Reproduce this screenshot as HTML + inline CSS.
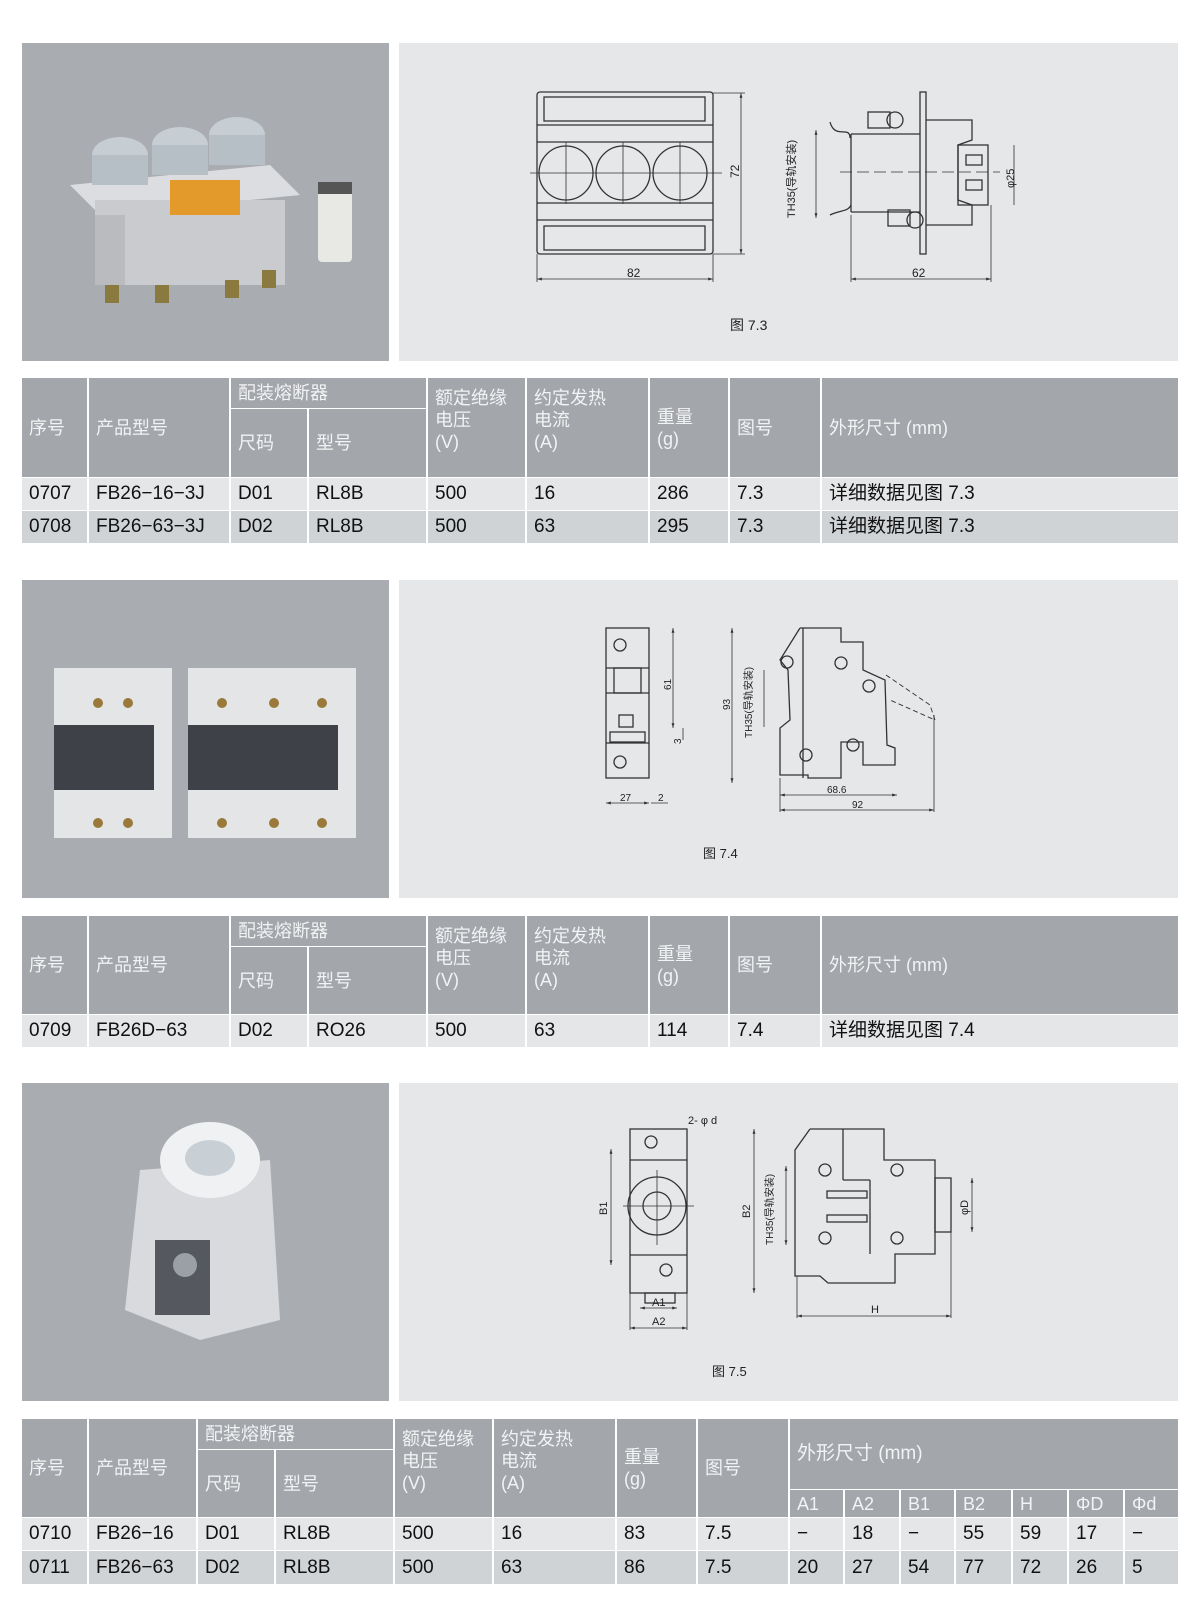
<!DOCTYPE html>
<html><head><meta charset="utf-8">
<style>
*{margin:0;padding:0}
body{width:1200px;height:1601px;background:#fff;position:relative;overflow:hidden;font-family:"Liberation Sans","Noto Sans CJK SC",sans-serif}
.b{position:absolute}
.ph{position:absolute;background:#a9acb1}
.dw{position:absolute;background:#e5e7e8}
.c{position:absolute;box-sizing:border-box;border-right:2px solid #fff;border-bottom:1px solid #fff;padding-left:7px;display:flex;align-items:center;font-size:19px;line-height:20px;color:#111;white-space:nowrap}
.c span{display:inline-block;line-height:20px}
.h{background:#a3a6ab;color:#f2f3f4;font-size:18px;line-height:22px}
.t{align-items:flex-start;padding-top:16px}
.r1{background:#e4e6e7}.r2{background:#d0d3d6}
.last{border-right:none}
svg text{font-family:"Liberation Sans","Noto Sans CJK SC",sans-serif}
</style></head><body>

<div class="ph" style="left:22px;top:43px;width:367px;height:318px"></div>
<div class="dw" style="left:399px;top:43px;width:779px;height:318px"></div>
<div class="ph" style="left:22px;top:580px;width:367px;height:318px"></div>
<div class="dw" style="left:399px;top:580px;width:779px;height:318px"></div>
<div class="ph" style="left:22px;top:1083px;width:367px;height:318px"></div>
<div class="dw" style="left:399px;top:1083px;width:779px;height:318px"></div>

<svg class="b" style="left:0;top:0" width="1200" height="1601" viewBox="0 0 1200 1601" fill="none" stroke="#333" stroke-width="1.3">
<defs><marker id="a" viewBox="0 0 10 10" refX="10" refY="5" markerWidth="6" markerHeight="6" orient="auto-start-reverse"><path d="M0,2 L10,5 L0,8z" fill="#333" stroke="none"/></marker></defs>
<g stroke="none">
<polygon points="70,185 270,165 300,195 100,215" fill="#dcdde0"/>
<rect x="95" y="200" width="190" height="85" fill="#c9cbcf"/>
<rect x="95" y="215" width="30" height="70" fill="#b9bbbf"/>
<rect x="170" y="180" width="70" height="35" fill="#e39a2a"/>
<ellipse cx="120" cy="155" rx="28" ry="18" fill="#c6cdd3"/><rect x="92" y="155" width="56" height="30" fill="#b7bfc6"/>
<ellipse cx="180" cy="145" rx="28" ry="18" fill="#c6cdd3"/><rect x="152" y="145" width="56" height="30" fill="#b7bfc6"/>
<ellipse cx="237" cy="135" rx="28" ry="18" fill="#c6cdd3"/><rect x="209" y="135" width="56" height="30" fill="#b7bfc6"/>
<rect x="105" y="285" width="14" height="18" fill="#8a7a40"/><rect x="155" y="285" width="14" height="18" fill="#8a7a40"/><rect x="225" y="280" width="14" height="18" fill="#8a7a40"/><rect x="262" y="270" width="14" height="18" fill="#8a7a40"/>
<rect x="318" y="190" width="34" height="72" rx="4" fill="#e8e8e4"/><rect x="318" y="182" width="34" height="12" fill="#555"/>
</g>
<g stroke="none">
<rect x="54" y="668" width="118" height="170" fill="#e4e5e7"/>
<rect x="54" y="725" width="100" height="65" fill="#3e4248"/>
<rect x="188" y="668" width="168" height="170" fill="#e4e5e7"/>
<rect x="188" y="725" width="150" height="65" fill="#3e4248"/>
<circle cx="98" cy="703" r="5" fill="#9a7a3a"/><circle cx="128" cy="703" r="5" fill="#9a7a3a"/>
<circle cx="222" cy="703" r="5" fill="#9a7a3a"/><circle cx="274" cy="703" r="5" fill="#9a7a3a"/><circle cx="322" cy="703" r="5" fill="#9a7a3a"/>
<circle cx="98" cy="823" r="5" fill="#9a7a3a"/><circle cx="128" cy="823" r="5" fill="#9a7a3a"/>
<circle cx="222" cy="823" r="5" fill="#9a7a3a"/><circle cx="274" cy="823" r="5" fill="#9a7a3a"/><circle cx="322" cy="823" r="5" fill="#9a7a3a"/>
</g>
<g stroke="none">
<polygon points="140,1170 270,1160 280,1320 200,1340 125,1310" fill="#d8dadd"/>
<ellipse cx="210" cy="1160" rx="50" ry="38" fill="#f0f1f2"/>
<ellipse cx="210" cy="1158" rx="25" ry="18" fill="#c8d0d6"/>
<rect x="155" y="1240" width="55" height="75" fill="#55595f"/>
<circle cx="185" cy="1265" r="12" fill="#9aa0a6"/>
</g>

<rect x="537" y="92" width="176" height="162" rx="3"/>
<rect x="544" y="97" width="161" height="24"/><rect x="544" y="226" width="161" height="24"/>
<line x1="537" y1="125" x2="713" y2="125"/><line x1="537" y1="142" x2="713" y2="142"/>
<line x1="537" y1="203" x2="713" y2="203"/><line x1="537" y1="220" x2="713" y2="220"/>
<circle cx="566" cy="173" r="27"/><circle cx="623" cy="173" r="27"/><circle cx="680" cy="173" r="27"/>
<line x1="530" y1="173" x2="722" y2="173" stroke-width=".8"/>
<line x1="566" y1="142" x2="566" y2="204" stroke-width=".8"/><line x1="623" y1="142" x2="623" y2="204" stroke-width=".8"/><line x1="680" y1="142" x2="680" y2="204" stroke-width=".8"/>
<line x1="741" y1="93" x2="741" y2="254" stroke-width=".8" marker-start="url(#a)" marker-end="url(#a)"/><line x1="713" y1="93" x2="745" y2="93" stroke-width=".8"/><line x1="713" y1="254" x2="745" y2="254" stroke-width=".8"/>
<line x1="537" y1="279" x2="713" y2="279" stroke-width=".8" marker-start="url(#a)" marker-end="url(#a)"/><line x1="537" y1="254" x2="537" y2="282" stroke-width=".8"/><line x1="713" y1="254" x2="713" y2="282" stroke-width=".8"/>
<rect x="920" y="92" width="6" height="162"/>
<polyline points="851,134 920,134"/><polyline points="851,212 920,212"/><line x1="851" y1="134" x2="851" y2="212"/>
<polyline points="926,120 972,120 972,140 958,145 958,200 972,205 972,225 926,225"/>
<rect x="958" y="145" width="30" height="60"/><rect x="966" y="155" width="16" height="10"/><rect x="966" y="180" width="16" height="10"/>
<path d="M830,122 C835,140 850,125 850,138 M830,215 C840,210 848,212 851,205"/>
<rect x="868" y="112" width="22" height="16"/><circle cx="895" cy="120" r="8"/>
<rect x="888" y="210" width="22" height="16"/><circle cx="915" cy="220" r="8"/>
<line x1="816" y1="130" x2="816" y2="218" stroke-width=".8" marker-start="url(#a)" marker-end="url(#a)"/>
<line x1="840" y1="172" x2="1000" y2="172" stroke-dasharray="12 5" stroke-width=".8"/>
<line x1="1014" y1="145" x2="1014" y2="205" stroke-width=".8"/>
<line x1="851" y1="279" x2="991" y2="279" stroke-width=".8" marker-start="url(#a)" marker-end="url(#a)"/><line x1="851" y1="215" x2="851" y2="282" stroke-width=".8"/><line x1="991" y1="205" x2="991" y2="282" stroke-width=".8"/>

<rect x="606" y="628" width="43" height="150"/>
<line x1="606" y1="668" x2="649" y2="668"/><line x1="606" y1="693" x2="649" y2="693"/><line x1="606" y1="743" x2="649" y2="743"/>
<rect x="614" y="668" width="27" height="25"/><rect x="619" y="715" width="14" height="12"/><rect x="610" y="732" width="35" height="10"/>
<circle cx="620" cy="645" r="6"/><circle cx="620" cy="762" r="6"/>
<line x1="673" y1="628" x2="673" y2="728" stroke-width=".8" marker-start="url(#a)" marker-end="url(#a)"/><line x1="683" y1="728" x2="683" y2="740" stroke-width=".8"/>
<line x1="606" y1="803" x2="649" y2="803" stroke-width=".8" marker-start="url(#a)" marker-end="url(#a)"/><line x1="651" y1="803" x2="668" y2="803" stroke-width=".8"/>
<line x1="732" y1="628" x2="732" y2="783" stroke-width=".8" marker-start="url(#a)" marker-end="url(#a)"/>
<polyline points="800,628 841,628 841,642 863,642 863,670 885,680 887,745 895,748 895,765 863,765 863,742 841,742 841,778 808,778 808,775 780,775 780,728 790,720 788,670 780,660 800,628"/>
<line x1="803" y1="628" x2="803" y2="778"/>
<circle cx="787" cy="662" r="6"/><circle cx="841" cy="663" r="6"/><circle cx="869" cy="686" r="6"/><circle cx="853" cy="745" r="6"/><circle cx="806" cy="755" r="6"/>
<polyline points="886,675 930,705 935,720 890,700" stroke-dasharray="5 3" stroke-width=".9"/>
<line x1="764" y1="670" x2="764" y2="727" stroke-width=".8"/>
<line x1="780" y1="795" x2="897" y2="795" stroke-width=".8" marker-start="url(#a)" marker-end="url(#a)"/><line x1="780" y1="810" x2="934" y2="810" stroke-width=".8" marker-start="url(#a)" marker-end="url(#a)"/>
<line x1="780" y1="778" x2="780" y2="812" stroke-width=".8"/><line x1="934" y1="715" x2="934" y2="812" stroke-width=".8"/>

<rect x="630" y="1129" width="57" height="164"/>
<line x1="630" y1="1160" x2="687" y2="1160"/><line x1="630" y1="1255" x2="687" y2="1255"/>
<circle cx="657" cy="1206" r="29"/><circle cx="657" cy="1206" r="14"/>
<line x1="623" y1="1206" x2="694" y2="1206" stroke-width=".8"/><line x1="657" y1="1170" x2="657" y2="1245" stroke-width=".8"/>
<circle cx="651" cy="1142" r="6"/><circle cx="666" cy="1270" r="6"/>
<rect x="645" y="1293" width="30" height="10"/>
<line x1="611" y1="1149" x2="611" y2="1265" stroke-width=".8" marker-start="url(#a)" marker-end="url(#a)"/>
<line x1="640" y1="1308" x2="677" y2="1308" stroke-width=".8" marker-start="url(#a)" marker-end="url(#a)"/><line x1="630" y1="1328" x2="687" y2="1328" stroke-width=".8" marker-start="url(#a)" marker-end="url(#a)"/>
<line x1="630" y1="1293" x2="630" y2="1330" stroke-width=".8"/><line x1="687" y1="1293" x2="687" y2="1330" stroke-width=".8"/>
<polyline points="810,1129 884,1129 884,1160 935,1160 935,1254 895,1254 895,1283 828,1283 820,1276 795,1276 795,1150 810,1129"/>
<line x1="843" y1="1129" x2="843" y2="1180"/><line x1="843" y1="1180" x2="870" y2="1180"/><line x1="870" y1="1180" x2="870" y2="1254"/>
<rect x="827" y="1191" width="40" height="7"/><rect x="827" y="1215" width="40" height="7"/>
<circle cx="825" cy="1170" r="6"/><circle cx="897" cy="1170" r="6"/><circle cx="825" cy="1238" r="6"/><circle cx="897" cy="1238" r="6"/>
<rect x="935" y="1178" width="16" height="54"/>
<line x1="786" y1="1166" x2="786" y2="1245" stroke-width=".8" marker-start="url(#a)" marker-end="url(#a)"/>
<line x1="754" y1="1129" x2="754" y2="1293" stroke-width=".8" marker-start="url(#a)" marker-end="url(#a)"/>
<line x1="972" y1="1178" x2="972" y2="1232" stroke-width=".8" marker-start="url(#a)" marker-end="url(#a)"/>
<line x1="797" y1="1316" x2="951" y2="1316" stroke-width=".8" marker-start="url(#a)" marker-end="url(#a)"/><line x1="797" y1="1276" x2="797" y2="1318" stroke-width=".8"/><line x1="951" y1="1232" x2="951" y2="1318" stroke-width=".8"/>

<g stroke="none" fill="#222" font-size="12">
<text x="627" y="277">82</text><text x="912" y="277">62</text>
<text transform="translate(739,178) rotate(-90)">72</text>
<text transform="translate(795,218) rotate(-90)" font-size="11">TH35(导轨安装)</text>
<text transform="translate(1014,188) rotate(-90)" font-size="11">φ25</text>
<text x="730" y="330" font-size="14">图 7.3</text>
<text transform="translate(671,690) rotate(-90)" font-size="10">61</text>
<text transform="translate(681,744) rotate(-90)" font-size="10">3</text>
<text x="620" y="801" font-size="10">27</text><text x="658" y="801" font-size="10">2</text>
<text transform="translate(730,710) rotate(-90)" font-size="10">93</text>
<text transform="translate(752,738) rotate(-90)" font-size="10">TH35(导轨安装)</text>
<text x="827" y="793" font-size="10">68.6</text><text x="852" y="808" font-size="10">92</text>
<text x="703" y="858" font-size="13">图 7.4</text>
<text x="688" y="1124" font-size="11">2- φ d</text>
<text transform="translate(607,1215) rotate(-90)" font-size="11">B1</text>
<text x="652" y="1306" font-size="11">A1</text><text x="652" y="1325" font-size="11">A2</text>
<text transform="translate(750,1218) rotate(-90)" font-size="11">B2</text>
<text transform="translate(773,1245) rotate(-90)" font-size="10">TH35(导轨安装)</text>
<text transform="translate(968,1215) rotate(-90)" font-size="11">φD</text>
<text x="871" y="1313" font-size="11">H</text>
<text x="712" y="1376" font-size="13">图 7.5</text>
</g>
</svg>

<!-- Table 1 -->
<div class="c h" style="left:22px;top:378px;width:67px;height:100px">序号</div>
<div class="c h" style="left:89px;top:378px;width:142px;height:100px">产品型号</div>
<div class="c h" style="left:231px;top:378px;width:197px;height:31px">配装熔断器</div>
<div class="c h" style="left:231px;top:409px;width:78px;height:69px">尺码</div>
<div class="c h" style="left:309px;top:409px;width:119px;height:69px">型号</div>
<div class="c h t" style="left:428px;top:378px;width:99px;height:100px;padding-top:9px">额定绝缘<br>电压<br>(V)</div>
<div class="c h t" style="left:527px;top:378px;width:123px;height:100px;padding-top:9px">约定发热<br>电流<br>(A)</div>
<div class="c h" style="left:650px;top:378px;width:80px;height:100px">重量<br>(g)</div>
<div class="c h" style="left:730px;top:378px;width:92px;height:100px">图号</div>
<div class="c h last" style="left:822px;top:378px;width:356px;height:100px">外形尺寸 (mm)</div>

<div class="c r1" style="left:22px;top:478px;width:67px;height:33px">0707</div>
<div class="c r1" style="left:89px;top:478px;width:142px;height:33px">FB26−16−3J</div>
<div class="c r1" style="left:231px;top:478px;width:78px;height:33px">D01</div>
<div class="c r1" style="left:309px;top:478px;width:119px;height:33px">RL8B</div>
<div class="c r1" style="left:428px;top:478px;width:99px;height:33px">500</div>
<div class="c r1" style="left:527px;top:478px;width:123px;height:33px">16</div>
<div class="c r1" style="left:650px;top:478px;width:80px;height:33px">286</div>
<div class="c r1" style="left:730px;top:478px;width:92px;height:33px">7.3</div>
<div class="c r1 last" style="left:822px;top:478px;width:356px;height:33px"><span>详细数据见图 7.3</span></div>
<div class="c r2" style="left:22px;top:511px;width:67px;height:33px">0708</div>
<div class="c r2" style="left:89px;top:511px;width:142px;height:33px">FB26−63−3J</div>
<div class="c r2" style="left:231px;top:511px;width:78px;height:33px">D02</div>
<div class="c r2" style="left:309px;top:511px;width:119px;height:33px">RL8B</div>
<div class="c r2" style="left:428px;top:511px;width:99px;height:33px">500</div>
<div class="c r2" style="left:527px;top:511px;width:123px;height:33px">63</div>
<div class="c r2" style="left:650px;top:511px;width:80px;height:33px">295</div>
<div class="c r2" style="left:730px;top:511px;width:92px;height:33px">7.3</div>
<div class="c r2 last" style="left:822px;top:511px;width:356px;height:33px"><span>详细数据见图 7.3</span></div>

<!-- Table 2 -->
<div class="c h" style="left:22px;top:916px;width:67px;height:99px">序号</div>
<div class="c h" style="left:89px;top:916px;width:142px;height:99px">产品型号</div>
<div class="c h" style="left:231px;top:916px;width:197px;height:31px">配装熔断器</div>
<div class="c h" style="left:231px;top:947px;width:78px;height:68px">尺码</div>
<div class="c h" style="left:309px;top:947px;width:119px;height:68px">型号</div>
<div class="c h t" style="left:428px;top:916px;width:99px;height:99px;padding-top:9px">额定绝缘<br>电压<br>(V)</div>
<div class="c h t" style="left:527px;top:916px;width:123px;height:99px;padding-top:9px">约定发热<br>电流<br>(A)</div>
<div class="c h" style="left:650px;top:916px;width:80px;height:99px">重量<br>(g)</div>
<div class="c h" style="left:730px;top:916px;width:92px;height:99px">图号</div>
<div class="c h last" style="left:822px;top:916px;width:356px;height:99px">外形尺寸 (mm)</div>
<div class="c r1" style="left:22px;top:1015px;width:67px;height:33px">0709</div>
<div class="c r1" style="left:89px;top:1015px;width:142px;height:33px">FB26D−63</div>
<div class="c r1" style="left:231px;top:1015px;width:78px;height:33px">D02</div>
<div class="c r1" style="left:309px;top:1015px;width:119px;height:33px">RO26</div>
<div class="c r1" style="left:428px;top:1015px;width:99px;height:33px">500</div>
<div class="c r1" style="left:527px;top:1015px;width:123px;height:33px">63</div>
<div class="c r1" style="left:650px;top:1015px;width:80px;height:33px">114</div>
<div class="c r1" style="left:730px;top:1015px;width:92px;height:33px">7.4</div>
<div class="c r1 last" style="left:822px;top:1015px;width:356px;height:33px"><span>详细数据见图 7.4</span></div>

<!-- Table 3 -->
<div class="c h" style="left:22px;top:1419px;width:67px;height:99px">序号</div>
<div class="c h" style="left:89px;top:1419px;width:109px;height:99px">产品型号</div>
<div class="c h" style="left:198px;top:1419px;width:197px;height:31px">配装熔断器</div>
<div class="c h" style="left:198px;top:1450px;width:78px;height:68px">尺码</div>
<div class="c h" style="left:276px;top:1450px;width:119px;height:68px">型号</div>
<div class="c h t" style="left:395px;top:1419px;width:99px;height:99px;padding-top:9px">额定绝缘<br>电压<br>(V)</div>
<div class="c h t" style="left:494px;top:1419px;width:123px;height:99px;padding-top:9px">约定发热<br>电流<br>(A)</div>
<div class="c h" style="left:617px;top:1419px;width:81px;height:99px">重量<br>(g)</div>
<div class="c h" style="left:698px;top:1419px;width:92px;height:99px">图号</div>
<div class="c h last" style="left:790px;top:1419px;width:388px;height:71px;font-size:19px">外形尺寸 (mm)</div>
<div class="c h" style="left:790px;top:1490px;width:55px;height:28px">A1</div>
<div class="c h" style="left:845px;top:1490px;width:56px;height:28px">A2</div>
<div class="c h" style="left:901px;top:1490px;width:55px;height:28px">B1</div>
<div class="c h" style="left:956px;top:1490px;width:57px;height:28px">B2</div>
<div class="c h" style="left:1013px;top:1490px;width:56px;height:28px">H</div>
<div class="c h" style="left:1069px;top:1490px;width:56px;height:28px">ΦD</div>
<div class="c h last" style="left:1125px;top:1490px;width:53px;height:28px">Φd</div>

<div class="c r1" style="left:22px;top:1518px;width:67px;height:33px">0710</div>
<div class="c r1" style="left:89px;top:1518px;width:109px;height:33px">FB26−16</div>
<div class="c r1" style="left:198px;top:1518px;width:78px;height:33px">D01</div>
<div class="c r1" style="left:276px;top:1518px;width:119px;height:33px">RL8B</div>
<div class="c r1" style="left:395px;top:1518px;width:99px;height:33px">500</div>
<div class="c r1" style="left:494px;top:1518px;width:123px;height:33px">16</div>
<div class="c r1" style="left:617px;top:1518px;width:81px;height:33px">83</div>
<div class="c r1" style="left:698px;top:1518px;width:92px;height:33px">7.5</div>
<div class="c r1" style="left:790px;top:1518px;width:55px;height:33px">−</div>
<div class="c r1" style="left:845px;top:1518px;width:56px;height:33px">18</div>
<div class="c r1" style="left:901px;top:1518px;width:55px;height:33px">−</div>
<div class="c r1" style="left:956px;top:1518px;width:57px;height:33px">55</div>
<div class="c r1" style="left:1013px;top:1518px;width:56px;height:33px">59</div>
<div class="c r1" style="left:1069px;top:1518px;width:56px;height:33px">17</div>
<div class="c r1 last" style="left:1125px;top:1518px;width:53px;height:33px">−</div>

<div class="c r2" style="left:22px;top:1551px;width:67px;height:34px">0711</div>
<div class="c r2" style="left:89px;top:1551px;width:109px;height:34px">FB26−63</div>
<div class="c r2" style="left:198px;top:1551px;width:78px;height:34px">D02</div>
<div class="c r2" style="left:276px;top:1551px;width:119px;height:34px">RL8B</div>
<div class="c r2" style="left:395px;top:1551px;width:99px;height:34px">500</div>
<div class="c r2" style="left:494px;top:1551px;width:123px;height:34px">63</div>
<div class="c r2" style="left:617px;top:1551px;width:81px;height:34px">86</div>
<div class="c r2" style="left:698px;top:1551px;width:92px;height:34px">7.5</div>
<div class="c r2" style="left:790px;top:1551px;width:55px;height:34px">20</div>
<div class="c r2" style="left:845px;top:1551px;width:56px;height:34px">27</div>
<div class="c r2" style="left:901px;top:1551px;width:55px;height:34px">54</div>
<div class="c r2" style="left:956px;top:1551px;width:57px;height:34px">77</div>
<div class="c r2" style="left:1013px;top:1551px;width:56px;height:34px">72</div>
<div class="c r2" style="left:1069px;top:1551px;width:56px;height:34px">26</div>
<div class="c r2 last" style="left:1125px;top:1551px;width:53px;height:34px">5</div>

</body></html>
